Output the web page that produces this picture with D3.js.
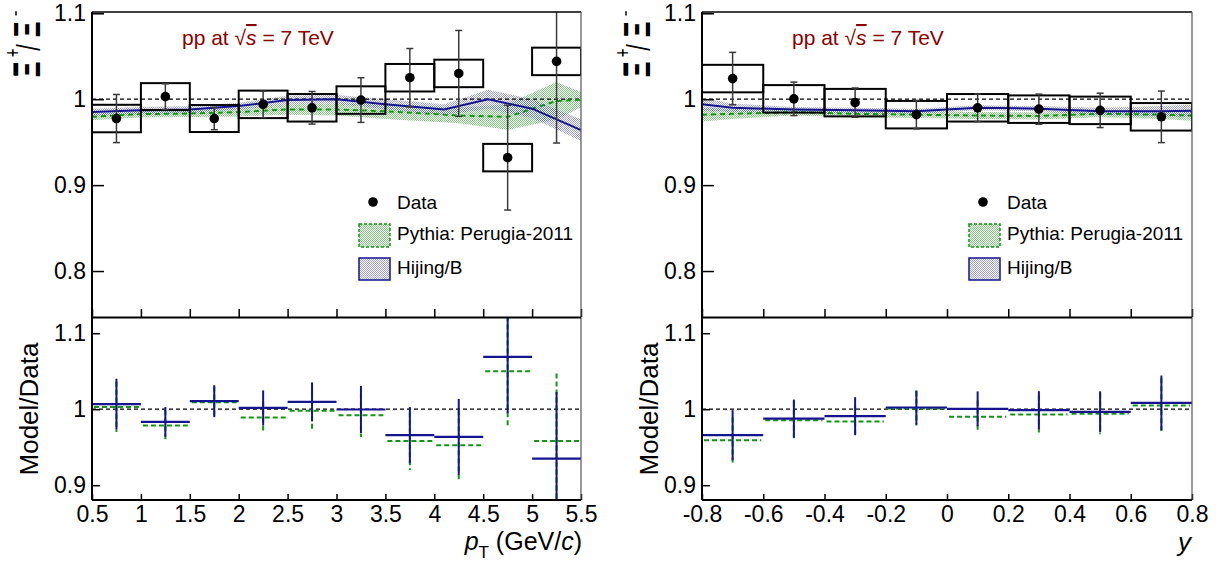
<!DOCTYPE html>
<html>
<head>
<meta charset="utf-8">
<script src="https://cdn.jsdelivr.net/npm/d3@7"></script>
<style>
  body { margin: 0; background: #fff; }
  svg { display: block; }
  text { font-family: "Liberation Sans", Arial, sans-serif; }
</style>
</head>
<body>
<div id="chart"></div>
<script>
// Plot constants
const WIDTH = 1220;
const HEIGHT = 564;

// ---- pT panel data ----
const ptEdges = [0.5, 1, 1.5, 2, 2.5, 3, 3.5, 4, 4.5, 5, 5.5];
const ptTicks = [0.5, 1, 1.5, 2, 2.5, 3, 3.5, 4, 4.5, 5, 5.5];
const ptRatio = [0.9775, 1.003, 0.9775, 0.994, 0.990, 0.999, 1.025, 1.030, 0.932, 1.044];
const ptStat = [0.028, 0.015, 0.013, 0.0155, 0.019, 0.026, 0.034, 0.050, 0.061, 0.095];
const ptSyst = [0.016, 0.0157, 0.0157, 0.016, 0.016, 0.016, 0.016, 0.016, 0.016, 0.016];

const ptPythiaX = [0.5, 1, 1.5, 2, 2.5, 3, 3.5, 4.25, 4.75, 5.25, 5.5];
const ptPythiaV = [0.9795, 0.9826, 0.9833, 0.985, 0.988, 0.988, 0.986, 0.981, 0.9795, 0.998, 0.9995];
const ptPythiaE = [0.004, 0.004, 0.004, 0.005, 0.006, 0.007, 0.009, 0.009, 0.015, 0.022, 0.009];

const ptHijingX = [0.5, 1, 1.5, 2, 2.5, 3, 3.5, 4.1, 4.55, 5, 5.5];
const ptHijingV = [0.985, 0.987, 0.988, 0.992, 0.999, 1.000, 0.994, 0.988, 1.000, 0.989, 0.964];
const ptHijingE = [0.004, 0.004, 0.004, 0.004, 0.005, 0.005, 0.006, 0.006, 0.011, 0.011, 0.0126];

const ptHijingMD = [1.0066, 0.9833, 1.0105, 1.0017, 1.0096, 0.9996, 0.9658, 0.9636, 1.0688, 0.935];
const ptHijingMDErr = [0.0335, 0.0195, 0.021, 0.023, 0.0257, 0.031, 0.037, 0.050, 0.074, 0.0876];
const ptPythiaMD = [1.003, 0.9785, 1.009, 0.989, 0.998, 0.992, 0.958, 0.9526, 1.050, 0.958];
const ptPythiaMDErr = [0.033, 0.020, 0.021, 0.021, 0.025, 0.0285, 0.038, 0.046, 0.0724, 0.089];

// ---- rapidity panel data ----
const yEdges = [-0.8, -0.6, -0.4, -0.2, 0, 0.2, 0.4, 0.6, 0.8];
const yTicks = [-0.8, -0.6, -0.4, -0.2, 0, 0.2, 0.4, 0.6, 0.8];
const yRatio = [1.024, 1.0004, 0.996, 0.982, 0.990, 0.9884, 0.987, 0.9795];
const yStat = [0.0305, 0.0195, 0.017, 0.0165, 0.016, 0.0175, 0.020, 0.030];
const ySyst = [0.016, 0.016, 0.016, 0.016, 0.016, 0.016, 0.016, 0.016];

const yModelX = [-0.8, -0.7, -0.5, -0.3, -0.1, 0.1, 0.3, 0.5, 0.7, 0.8];
const yPythiaV = [0.982, 0.983, 0.985, 0.983, 0.982, 0.981, 0.9805, 0.983, 0.982, 0.981];
const yPythiaE = [0.008, 0.006, 0.004, 0.004, 0.004, 0.004, 0.004, 0.004, 0.005, 0.006];
const yHijingV = [0.994, 0.990, 0.988, 0.987, 0.986, 0.990, 0.989, 0.986, 0.986, 0.9865];
const yHijingE = [0.0075, 0.005, 0.003, 0.003, 0.003, 0.003, 0.003, 0.004, 0.006, 0.007];

const yHijingMD = [0.9658, 0.9877, 0.9908, 1.0022, 1.0004, 0.9987, 0.9965, 1.0083];
const yHijingMDErr = [0.033, 0.025, 0.025, 0.0225, 0.023, 0.025, 0.027, 0.036];
const yPythiaMD = [0.959, 0.9855, 0.9838, 1.001, 0.990, 0.993, 0.994, 1.005];
const yPythiaMDErr = [0.030, 0.025, 0.021, 0.0225, 0.021, 0.025, 0.027, 0.036];

const topTicks = [0.8, 0.9, 1, 1.1];
const botTicks = [0.9, 1, 1.1];

const BLUE = "#14148f";
const GREEN = "#149414";
const RED = "#8b0000";
const FONT = "Liberation Sans, Arial, sans-serif";

const zip = (xs, vs, es) => xs.map((x, i) => ({ x: x, v: vs[i], e: es[i] }));
const fmt = d => String(+d.toFixed(2));

const svg = d3.select("#chart").append("svg")
  .attr("width", WIDTH)
  .attr("height", HEIGHT);
const defs = svg.append("defs");

// dotted hatch fills like the ROOT fill styles
function hatch(id, color) {
  const p = defs.append("pattern")
    .attr("id", id)
    .attr("width", 2).attr("height", 2)
    .attr("patternUnits", "userSpaceOnUse");
  p.append("rect").attr("width", 1).attr("height", 1).attr("fill", color);
  p.append("rect").attr("x", 1).attr("y", 1).attr("width", 1).attr("height", 1).attr("fill", color);
}
hatch("hatchGreen", "rgba(40,165,40,0.6)");
hatch("hatchBlue", "rgba(60,60,185,0.5)");

const panels = [
  {
    id: "pt", x0: 92, x1: 581, domain: [0.5, 5.5], ticks: ptTicks, edges: ptEdges,
    ratio: ptRatio, stat: ptStat, syst: ptSyst,
    pythia: zip(ptPythiaX, ptPythiaV, ptPythiaE), hijing: zip(ptHijingX, ptHijingV, ptHijingE),
    hMD: ptHijingMD, hMDErr: ptHijingMDErr, pMD: ptPythiaMD, pMDErr: ptPythiaMDErr,
    mdOffset: 54
  },
  {
    id: "y", x0: 702, x1: 1192, domain: [-0.8, 0.8], ticks: yTicks, edges: yEdges,
    ratio: yRatio, stat: yStat, syst: ySyst,
    pythia: zip(yModelX, yPythiaV, yPythiaE), hijing: zip(yModelX, yHijingV, yHijingE),
    hMD: yHijingMD, hMDErr: yHijingMDErr, pMD: yPythiaMD, pMDErr: yPythiaMDErr,
    mdOffset: 44
  }
];

function drawPanel(p) {
  const x = d3.scaleLinear().domain(p.domain).range([p.x0, p.x1]);
  const yT = d3.scaleLinear().domain([0.7465, 1.1015]).range([317, 12]);
  const yB = d3.scaleLinear().domain([0.8805, 1.12]).range([500, 318]);
  const g = svg.append("g");

  // clip regions
  defs.append("clipPath").attr("id", "clipT-" + p.id)
    .append("rect").attr("x", p.x0).attr("y", 12).attr("width", p.x1 - p.x0).attr("height", 305);
  defs.append("clipPath").attr("id", "clipB-" + p.id)
    .append("rect").attr("x", p.x0).attr("y", 318).attr("width", p.x1 - p.x0).attr("height", 182);

  const top = g.append("g").attr("clip-path", `url(#clipT-${p.id})`);
  const bot = g.append("g").attr("clip-path", `url(#clipB-${p.id})`);

  // model bands
  const area = d3.area().x(d => x(d.x)).y0(d => yT(d.v - d.e)).y1(d => yT(d.v + d.e));
  const line = d3.line().x(d => x(d.x)).y(d => yT(d.v));
  top.append("path").datum(p.pythia).attr("d", area).attr("fill", "url(#hatchGreen)");
  top.append("path").datum(p.hijing).attr("d", area).attr("fill", "url(#hatchBlue)");

  // unity lines
  top.append("line").attr("x1", p.x0).attr("x2", p.x1).attr("y1", yT(1)).attr("y2", yT(1))
    .attr("stroke", "#000").attr("stroke-width", 1.2).attr("stroke-dasharray", "4,3");
  bot.append("line").attr("x1", p.x0).attr("x2", p.x1).attr("y1", yB(1)).attr("y2", yB(1))
    .attr("stroke", "#000").attr("stroke-width", 1.2).attr("stroke-dasharray", "4,3");

  top.append("path").datum(p.pythia).attr("d", line).attr("fill", "none")
    .attr("stroke", GREEN).attr("stroke-width", 2).attr("stroke-dasharray", "5,4");
  top.append("path").datum(p.hijing).attr("d", line).attr("fill", "none")
    .attr("stroke", BLUE).attr("stroke-width", 2);

  // data: systematic boxes, stat bars, points
  const bins = p.ratio.map((r, i) => ({
    lo: p.edges[i], hi: p.edges[i + 1], c: (p.edges[i] + p.edges[i + 1]) / 2,
    r: r, stat: p.stat[i], syst: p.syst[i],
    h: p.hMD[i], he: p.hMDErr[i], py: p.pMD[i], pe: p.pMDErr[i]
  }));

  top.selectAll(".syst").data(bins).join("rect")
    .attr("class", "syst")
    .attr("x", d => x(d.lo)).attr("width", d => x(d.hi) - x(d.lo))
    .attr("y", d => yT(d.r + d.syst)).attr("height", d => yT(d.r - d.syst) - yT(d.r + d.syst))
    .attr("fill", "none").attr("stroke", "#000").attr("stroke-width", 2);

  const eb = top.selectAll(".stat").data(bins).join("g").attr("class", "stat")
    .attr("stroke", "#3a3a3a").attr("stroke-width", 1.5);
  eb.append("line").attr("x1", d => x(d.c)).attr("x2", d => x(d.c))
    .attr("y1", d => yT(d.r + d.stat)).attr("y2", d => yT(d.r - d.stat));
  eb.append("line").attr("x1", d => x(d.c) - 3.5).attr("x2", d => x(d.c) + 3.5)
    .attr("y1", d => yT(d.r + d.stat)).attr("y2", d => yT(d.r + d.stat));
  eb.append("line").attr("x1", d => x(d.c) - 3.5).attr("x2", d => x(d.c) + 3.5)
    .attr("y1", d => yT(d.r - d.stat)).attr("y2", d => yT(d.r - d.stat));

  top.selectAll(".pt").data(bins).join("circle").attr("class", "pt")
    .attr("cx", d => x(d.c)).attr("cy", d => yT(d.r)).attr("r", 4.8).attr("fill", "#000");

  // model / data
  bot.selectAll(".pyh").data(bins).join("line").attr("class", "pyh")
    .attr("x1", d => x(d.lo) + 2).attr("x2", d => x(d.hi) - 2)
    .attr("y1", d => yB(d.py)).attr("y2", d => yB(d.py))
    .attr("stroke", GREEN).attr("stroke-width", 2).attr("stroke-dasharray", "5,3");
  bot.selectAll(".pyv").data(bins).join("line").attr("class", "pyv")
    .attr("x1", d => x(d.c)).attr("x2", d => x(d.c))
    .attr("y1", d => yB(d.py + d.pe)).attr("y2", d => yB(d.py - d.pe))
    .attr("stroke", GREEN).attr("stroke-width", 2).attr("stroke-dasharray", "5,3");
  bot.selectAll(".hjh").data(bins).join("line").attr("class", "hjh")
    .attr("x1", d => x(d.lo)).attr("x2", d => x(d.hi))
    .attr("y1", d => yB(d.h)).attr("y2", d => yB(d.h))
    .attr("stroke", BLUE).attr("stroke-width", 2.2);
  bot.selectAll(".hjv").data(bins).join("line").attr("class", "hjv")
    .attr("x1", d => x(d.c)).attr("x2", d => x(d.c))
    .attr("y1", d => yB(d.h + d.he)).attr("y2", d => yB(d.h - d.he))
    .attr("stroke", BLUE).attr("stroke-width", 2);

  // axes
  const styleAxis = sel => {
    sel.attr("font-family", FONT).attr("font-size", 23);
    sel.select(".domain").remove();
    sel.selectAll(".tick line").attr("stroke", "#000").attr("stroke-width", 1.5);
    sel.selectAll(".tick text").attr("fill", "#000");
  };
  g.append("g").attr("transform", `translate(${p.x0},0)`)
    .call(d3.axisLeft(yT).tickValues(topTicks).tickSizeInner(-12).tickSizeOuter(0).tickPadding(6).tickFormat(fmt))
    .call(styleAxis);
  g.append("g").attr("transform", `translate(${p.x0},0)`)
    .call(d3.axisLeft(yB).tickValues(botTicks).tickSizeInner(-8).tickSizeOuter(0).tickPadding(6).tickFormat(fmt))
    .call(styleAxis);
  g.append("g").attr("transform", "translate(0,317)")
    .call(d3.axisBottom(x).tickValues(p.ticks).tickSizeInner(-8).tickSizeOuter(0).tickFormat(""))
    .call(styleAxis);
  g.append("g").attr("transform", "translate(0,500)")
    .call(d3.axisBottom(x).tickValues(p.ticks).tickSizeInner(-6).tickSizeOuter(0).tickPadding(6).tickFormat(fmt))
    .call(styleAxis);

  // frame
  const fr = g.append("g").attr("fill", "none");
  fr.append("line").attr("x1", p.x0).attr("x2", p.x1).attr("y1", 12).attr("y2", 12)
    .attr("stroke", "#000").attr("stroke-width", 1.5);
  fr.append("line").attr("x1", p.x1).attr("x2", p.x1).attr("y1", 12).attr("y2", 500)
    .attr("stroke", "#555").attr("stroke-width", 1.2);
  fr.append("line").attr("x1", p.x0).attr("x2", p.x1).attr("y1", 317.5).attr("y2", 317.5)
    .attr("stroke", "#000").attr("stroke-width", 2);
  fr.append("line").attr("x1", p.x0).attr("x2", p.x1).attr("y1", 500).attr("y2", 500)
    .attr("stroke", "#000").attr("stroke-width", 2);
  fr.append("line").attr("x1", p.x0).attr("x2", p.x0).attr("y1", 12).attr("y2", 500)
    .attr("stroke", "#000").attr("stroke-width", 2);

  // energy label
  const t = g.append("text").attr("x", p.x0 + 90).attr("y", 45)
    .attr("fill", RED).attr("font-size", 21);
  t.append("tspan").text("pp at  √");
  t.append("tspan").attr("font-style", "italic").style("text-decoration", "overline").text("s");
  t.append("tspan").text(" = 7 TeV");

  // legend
  const lx = p.x0 + 266;
  const lg = g.append("g").attr("font-size", 19);
  lg.append("circle").attr("cx", lx + 15).attr("cy", 202).attr("r", 4.8).attr("fill", "#000");
  lg.append("text").attr("x", lx + 39).attr("y", 209).text("Data");
  lg.append("rect").attr("x", lx + 1).attr("y", 224).attr("width", 31).attr("height", 23)
    .attr("fill", "url(#hatchGreen)").attr("stroke", GREEN).attr("stroke-width", 1.5).attr("stroke-dasharray", "3,2");
  lg.append("text").attr("x", lx + 39).attr("y", 240).text("Pythia: Perugia-2011");
  lg.append("rect").attr("x", lx + 1).attr("y", 258).attr("width", 31).attr("height", 22)
    .attr("fill", "url(#hatchBlue)").attr("stroke", BLUE).attr("stroke-width", 1.5);
  lg.append("text").attr("x", lx + 39).attr("y", 274).text("Hijing/B");

  // y titles
  const yl = g.append("g").attr("transform", `translate(${p.x0 - 52},78) rotate(-90) scale(0.68,1)`);
  yl.append("text").attr("x", 1).attr("y", 0).attr("font-family", "Liberation Serif, serif")
    .attr("font-weight", "bold").attr("font-size", 36).text("Ξ");
  yl.append("line").attr("x1", 4).attr("x2", 22).attr("y1", -25.5).attr("y2", -25.5)
    .attr("stroke", "#000").attr("stroke-width", 2);
  yl.append("text").attr("x", 37).attr("y", -28).attr("text-anchor", "middle")
    .attr("dominant-baseline", "central").attr("font-size", 22).text("+");
  yl.append("text").attr("x", 40).attr("y", 0).attr("font-size", 34).text("/");
  yl.append("text").attr("x", 60).attr("y", 0).attr("font-family", "Liberation Serif, serif")
    .attr("font-weight", "bold").attr("font-size", 36).text("Ξ");
  yl.append("line").attr("x1", 92).attr("x2", 98).attr("y1", -24).attr("y2", -24)
    .attr("stroke", "#000").attr("stroke-width", 1.5);

  g.append("text").attr("transform", `translate(${p.x0 - p.mdOffset},409) rotate(-90)`)
    .attr("text-anchor", "middle").attr("font-size", 26).text("Model/Data");
}

panels.forEach(drawPanel);

// x titles
const xt = svg.append("text").attr("x", 582).attr("y", 550).attr("text-anchor", "end").attr("font-size", 25);
xt.append("tspan").attr("font-style", "italic").text("p");
xt.append("tspan").attr("font-size", 17).attr("dy", 8).text("T");
xt.append("tspan").attr("dy", -8).text(" (GeV/");
xt.append("tspan").attr("font-style", "italic").text("c");
xt.append("tspan").text(")");

svg.append("text").attr("x", 1191).attr("y", 551).attr("text-anchor", "end")
  .attr("font-size", 26).attr("font-style", "italic").text("y");
</script>
</body>
</html>
